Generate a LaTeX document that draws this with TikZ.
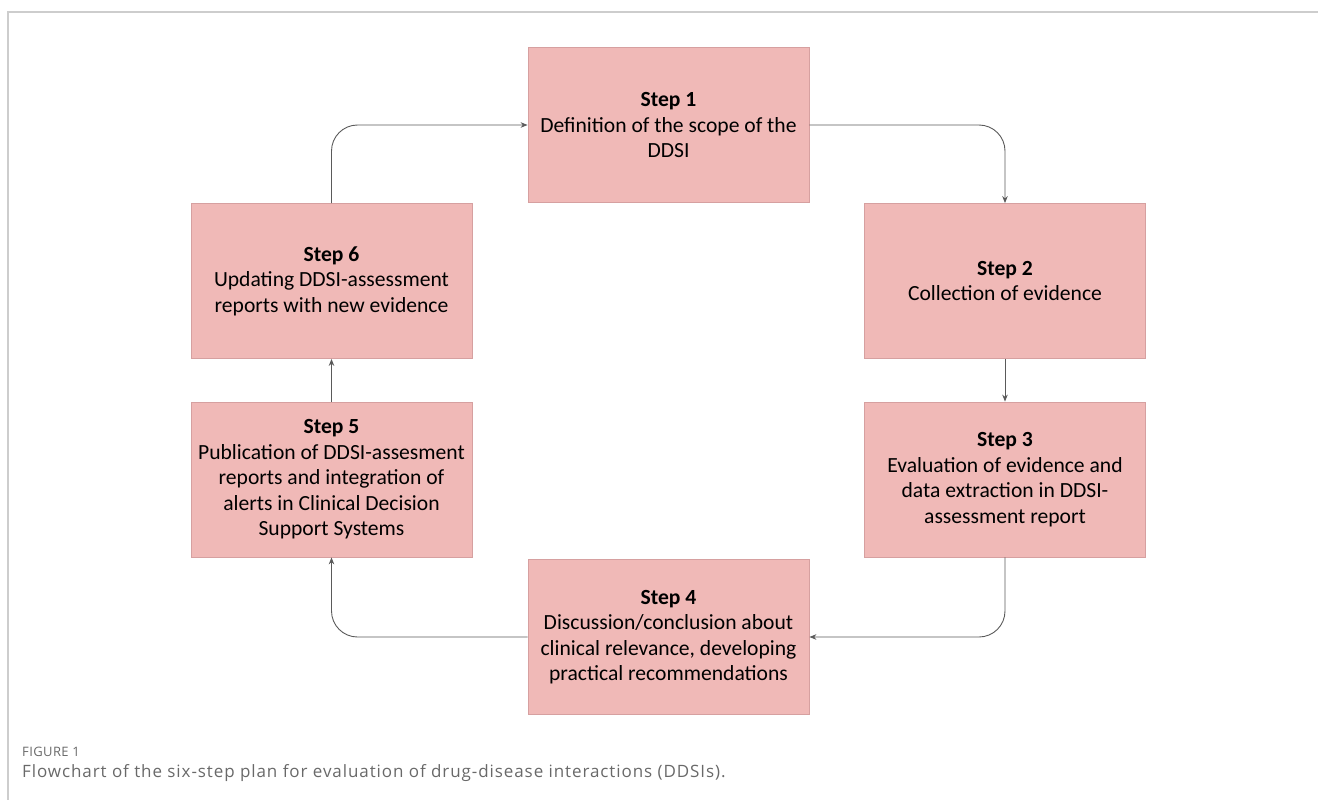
\documentclass[tikz,border=0pt]{standalone}
\usepackage{fontspec}
\setmainfont{Carlito}
\newfontfamily\capfont[LetterSpace=5.4]{Open Sans}
\newfontfamily\labfont[LetterSpace=3]{Open Sans}
\usetikzlibrary{arrows.meta}
\definecolor{boxfill}{RGB}{240,185,183}
\definecolor{boxline}{RGB}{214,160,160}
\definecolor{linegray}{RGB}{90,90,90}
\definecolor{framegray}{RGB}{205,205,205}
\definecolor{capgray}{RGB}{105,105,105}
\tikzset{
  stepbox/.style={draw=boxline, fill=boxfill, line width=0.8pt, minimum width=281pt, minimum height=155pt, inner sep=0pt, align=center, font=\fontsize{21.6}{25.5}\selectfont, text=black},
  flow/.style={draw=linegray, line width=0.9pt, rounded corners=26pt, -{Stealth[length=7pt,width=5.5pt]}},
}
\begin{document}
\begin{tikzpicture}[x=1pt,y=-1pt]
\useasboundingbox (0,0) rectangle (1318,800);
\draw[framegray, line width=1.3pt] (8,800) -- (8,12) -- (1318,12);
\node[stepbox] (s1) at (668.5,125) {\textbf{Step 1}\\Definition of the scope of the\\DDSI};
\node[stepbox] (s2) at (1005,281) {\textbf{Step 2}\\Collection of evidence};
\node[stepbox] (s3) at (1005,479.5) {\textbf{Step 3}\\Evaluation of evidence and\\data extraction in DDSI-\\assessment report};
\node[stepbox] (s4) at (668.5,637) {\textbf{Step 4}\\Discussion/conclusion about\\clinical relevance, developing\\practical recommendations};
\node[stepbox] (s5) at (331.5,479.5) {\textbf{Step 5}\\Publication of DDSI-assesment\\reports and integration of\\alerts in Clinical Decision\\Support Systems};
\node[stepbox] (s6) at (331.5,281) {\textbf{Step 6}\\Updating DDSI-assessment\\reports with new evidence};
\draw[flow] (s1.east) -| (s2.north);
\draw[flow] (s2.south) -- (s3.north);
\draw[flow] (s3.south) |- (s4.east);
\draw[flow] (s4.west) -| (s5.south);
\draw[flow] (s5.north) -- (s6.south);
\draw[flow] (s6.north) |- (s1.west);
\node[anchor=west, inner sep=0pt, text=capgray, font=\labfont\fontsize{13}{14}\selectfont] (figlabel) at (22,752) {FIGURE 1};
\node[anchor=west, inner sep=0pt, text=capgray, font=\capfont\fontsize{17}{20}\selectfont] (caption) at (22,773) {Flowchart of the six-step plan for evaluation of drug-disease interactions (DDSIs).};
\end{tikzpicture}
\end{document}
